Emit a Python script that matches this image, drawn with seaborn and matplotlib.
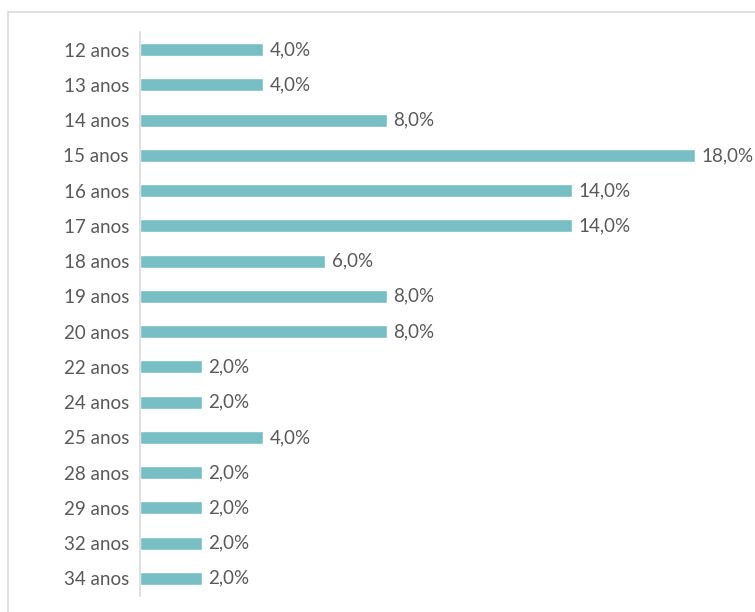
import matplotlib
matplotlib.use("Agg")
import matplotlib.pyplot as plt
import seaborn as sns
import pandas as pd
from matplotlib.patches import Rectangle

# chart values
idades = ["12 anos", "13 anos", "14 anos", "15 anos", "16 anos", "17 anos",
          "18 anos", "19 anos", "20 anos", "22 anos", "24 anos", "25 anos",
          "28 anos", "29 anos", "32 anos", "34 anos"]
percentuais = [4.0, 4.0, 8.0, 18.0, 14.0, 14.0, 6.0, 8.0, 8.0,
               2.0, 2.0, 4.0, 2.0, 2.0, 2.0, 2.0]

df = pd.DataFrame({"idade": idades, "pct": percentuais})

sns.set_style("white")
plt.rcParams["font.family"] = ["Lato", "DejaVu Sans"]

texto = "#595959"
barra = "#78BEC5"

W, H = 755, 612
fig = plt.figure(figsize=(W / 100, H / 100), dpi=100)
ax = fig.add_axes([140 / W, 1 - 596 / H, (695 - 140) / W, (596 - 32) / H])

sns.barplot(data=df, y="idade", x="pct", color=barra, width=0.37,
            orient="h", ax=ax, saturation=1)

ax.set_xlim(0, 18)
ax.set_ylim(len(idades) - 0.5, -0.5)
ax.set_xlabel("")
ax.set_ylabel("")
ax.set_xticks([])
ax.tick_params(axis="y", length=0, pad=8, labelsize=13.5, labelcolor=texto)
for s in ["top", "right", "bottom"]:
    ax.spines[s].set_visible(False)
ax.spines["left"].set_color("#D9D9D9")
ax.spines["left"].set_linewidth(1.2)

for i, v in enumerate(percentuais):
    ax.text(v + 0.22, i, f"{v:.1f}%".replace(".", ","), va="center", ha="left",
            fontsize=13.5, color=texto, clip_on=False)

# moldura do gráfico
fig.patches.append(Rectangle((8 / W, -0.1), 1.2, 1 - 12 / H + 0.1,
                             transform=fig.transFigure, fill=False,
                             edgecolor="#D9D9D9", linewidth=1.2))

fig.savefig("out.png", dpi=100)
